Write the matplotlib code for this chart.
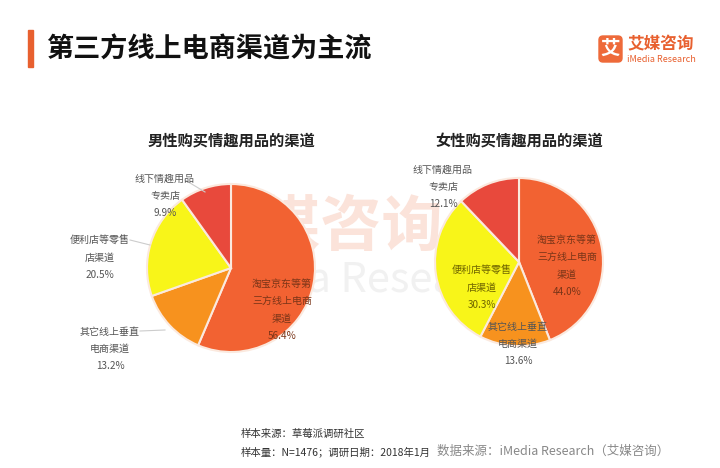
import matplotlib
matplotlib.use("Agg")
import matplotlib.pyplot as plt
from matplotlib.patches import FancyBboxPatch, Rectangle

plt.rcParams["font.family"] = ["Noto Sans CJK SC", "DejaVu Sans"]

categories = ["淘宝京东等第三方线上电商渠道", "其它线上垂直电商渠道", "便利店等零售店渠道", "线下情趣用品专卖店"]
male_values = [56.4, 13.2, 20.5, 9.9]
female_values = [44.0, 13.6, 30.3, 12.1]
colors = ["#F26232", "#F7921E", "#F8F519", "#E8493C"]

W, H = 720, 468
fig = plt.figure(figsize=(7.2, 4.68), dpi=100)
ax = fig.add_axes([0, 0, 1, 1])
ax.set_xlim(0, W); ax.set_ylim(0, H); ax.set_aspect("equal"); ax.axis("off")
Y = lambda y: H - y

# watermark
ax.text(320, Y(228), "艾媒咨询", fontsize=44, color="#FBE3DA", ha="center", va="center", weight="bold", zorder=0)
ax.text(360, Y(280), "iMedia Research", fontsize=30, color="#F1F1F1", ha="center", va="center", zorder=0)

# title
ax.add_patch(Rectangle((28, Y(67)), 5, 37, color="#E8602F"))
ax.text(46, Y(49), "第三方线上电商渠道为主流", fontsize=19.5, weight="bold", va="center", color="#111")
ax.add_patch(FancyBboxPatch((599, Y(62)), 23, 26, boxstyle="round,pad=0,rounding_size=4", color="#EE6A3A"))
ax.text(610.5, Y(49), "艾", fontsize=14, color="white", weight="bold", ha="center", va="center")
ax.text(627, Y(44), "艾媒咨询", fontsize=12, color="#E8602F", va="center", weight="bold")
ax.text(627, Y(59), "iMedia Research", fontsize=6.5, color="#E8602F", va="center")

def draw(center, vals, title):
    ax.pie(vals, colors=colors, startangle=90, counterclock=False, center=center, radius=84,
           wedgeprops=dict(edgecolor="#FBE9DE", linewidth=1.5))
    ax.text(center[0], Y(140), title, fontsize=11, weight="bold", ha="center", va="center", color="#222")

draw((231, Y(268)), male_values, "男性购买情趣用品的渠道")
draw((519, Y(262)), female_values, "女性购买情趣用品的渠道")
ax.set_xlim(0, W); ax.set_ylim(0, H); ax.set_aspect("equal"); ax.axis("off")

def lab(x, y, name, v, color="#555"):
    ax.text(x, Y(y), f"{name}\n{v:.1f}%", fontsize=7.2, ha="center", va="center", color=color, linespacing=1.9)

lab(165, 196, "线下情趣用品\n专卖店", male_values[3])
lab(100, 258, "便利店等零售\n店渠道", male_values[2])
lab(110, 349, "其它线上垂直\n电商渠道", male_values[1])
lab(282, 310, "淘宝京东等第\n三方线上电商\n渠道", male_values[0], "#7A3518")
ax.plot([185, 205], [Y(180), Y(192)], color="#ccc", lw=0.8)
ax.plot([130, 150], [Y(240), Y(245)], color="#ccc", lw=0.8)
ax.plot([140, 165], [Y(331), Y(330)], color="#ccc", lw=0.8)

lab(443, 187, "线下情趣用品\n专卖店", female_values[3])
lab(482, 288, "便利店等零售\n店渠道", female_values[2], "#6E6400")
lab(518, 344, "其它线上垂直\n电商渠道", female_values[1])
lab(567, 266, "淘宝京东等第\n三方线上电商\n渠道", female_values[0], "#7A3518")

ax.text(241, Y(434), "样本来源：草莓派调研社区", fontsize=7.5, va="center", color="#333")
ax.text(241, Y(452), "样本量：N=1476；调研日期：2018年1月", fontsize=7.5, va="center", color="#333")
ax.text(437, Y(451), "数据来源：iMedia Research（艾媒咨询）", fontsize=9, va="center", color="#888")

fig.savefig("out.png", dpi=100, facecolor="white")
